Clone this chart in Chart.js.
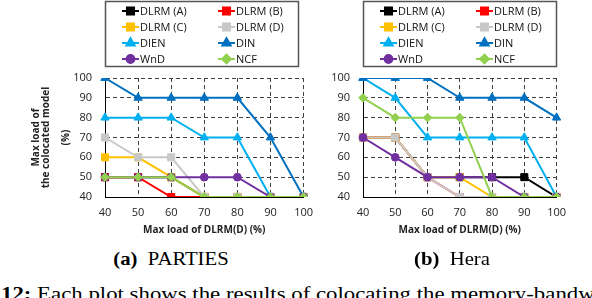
<!DOCTYPE html>
<html>
<head>
<meta charset="utf-8">
<script src="https://cdn.jsdelivr.net/npm/chart.js@4.4.0/dist/chart.umd.min.js"></script>
<style>
  body { margin: 0; width: 592px; height: 298px; overflow: hidden; background: #fff; position: relative; font-family: "Liberation Serif", "Times New Roman", serif; }
  #boxA { position: absolute; left: 0; top: 0; width: 322px; height: 240px; }
  #boxB { position: absolute; left: 270px; top: 0; width: 305px; height: 240px; }
  .sub { position: absolute; top: 249px; font-size: 18px; line-height: 20px; white-space: nowrap; transform: translateX(-50%) scaleX(1.15); }
  .cap { position: absolute; left: 1px; top: 284px; font-size: 19.5px; line-height: 20px; white-space: nowrap; transform-origin: left top; transform: scaleX(1.17); }
</style>
</head>
<body>
<div id="boxA"><canvas id="chartA"></canvas></div>
<div id="boxB"><canvas id="chartB"></canvas></div>
<div class="sub" style="left:171px"><b>(a)</b>&nbsp; PARTIES</div>
<div class="sub" style="left:452px"><b>(b)</b>&nbsp; Hera</div>
<div class="cap"><b>12:</b> Each plot shows the results of colocating the memory-bandwidth</div>
<script>
// x axis: max load of DLRM(D)
var loads = ['40', '50', '60', '70', '80', '90', '100'];
var seriesNames = ['DLRM (A)', 'DLRM (B)', 'DLRM (C)', 'DLRM (D)', 'DIEN', 'DIN', 'WnD', 'NCF'];
var seriesColors = ['#000000', '#FF0000', '#FFC000', '#C8C8C8', '#00B0F0', '#0070C0', '#7030A0', '#92D050'];
var seriesMarkers = ['rect', 'rect', 'rect', 'rect', 'triangle', 'triangle', 'circle', 'rectRot'];

// (a) PARTIES
var partiesA    = [50, 50, 50, 40, 40, 40, 40];
var partiesB    = [50, 50, 40, 40, 40, 40, 40];
var partiesC    = [60, 60, 50, 40, 40, 40, 40];
var partiesD    = [70, 60, 60, 40, 40, 40, 40];
var partiesDIEN = [80, 80, 80, 70, 70, 40, 40];
var partiesDIN  = [100, 90, 90, 90, 90, 70, 40];
var partiesWnD  = [50, 50, 50, 50, 50, 40, 40];
var partiesNCF  = [50, 50, 50, 40, 40, 40, 40];

// (b) Hera
var heraA    = [70, 70, 50, 50, 50, 50, 40];
var heraB    = [70, 70, 50, 40, 40, 40, 40];
var heraC    = [70, 70, 50, 50, 40, 40, 40];
var heraD    = [70, 70, 50, 40, 40, 40, 40];
var heraDIEN = [100, 90, 70, 70, 70, 70, 40];
var heraDIN  = [100, 100, 100, 90, 90, 90, 80];
var heraWnD  = [70, 60, 50, 50, 50, 40, 40];
var heraNCF  = [90, 80, 80, 80, 40, 40, 40];

var markerSize = { rect: 5, triangle: 4.8, circle: 3.9, rectRot: 4.3 };

function makeDatasets(values) {
    var sets = [];
    for (var i = 0; i < values.length; i++) {
        var st = seriesMarkers[i];
        sets.push({
            label: seriesNames[i],
            data: values[i],
            borderColor: seriesColors[i],
            backgroundColor: seriesColors[i],
            pointBackgroundColor: seriesColors[i],
            pointBorderColor: seriesColors[i],
            pointStyle: st,
            pointRadius: markerSize[st],
            pointBorderWidth: 1,
            borderWidth: 2,
            tension: 0,
            order: values.length - i   // later series on top, like the original
        });
    }
    return sets;
}

// legend box drawn inside the top padding, two columns
var boxLegend = {
    id: 'boxLegend',
    afterDraw: function(chart) {
        var ctx = chart.ctx, area = chart.chartArea;
        var left = area.left, top = 1.5, w = 193, h = 65;
        ctx.save();
        ctx.strokeStyle = '#555';
        ctx.lineWidth = 1.5;
        ctx.strokeRect(left + 0.5, top, w, h);
        ctx.font = '11px "Open Sans"';
        ctx.textBaseline = 'middle';
        ctx.textAlign = 'left';
        chart.data.datasets.forEach(function(ds, i) {
            var col = i % 2, row = Math.floor(i / 2);
            var x = left + 17 + col * 96, y = 11 + row * 16;
            ctx.strokeStyle = ds.borderColor;
            ctx.lineWidth = 2;
            ctx.beginPath();
            ctx.moveTo(x, y);
            ctx.lineTo(x + 17, y);
            ctx.stroke();
            Chart.helpers.drawPoint(ctx, {
                pointStyle: ds.pointStyle,
                radius: ds.pointRadius,
                borderWidth: 1,
                rotation: 0
            }, x + 8.5, y);
            ctx.fillStyle = ds.pointBackgroundColor;
            ctx.strokeStyle = ds.pointBorderColor;
            ctx.lineWidth = 1;
            ctx.fill();
            ctx.stroke();
            ctx.fillStyle = '#111';
            ctx.fillText(ds.label, x + 18, y + 0.5);
        });
        ctx.restore();
    }
};

function makeChart(id, values, yWidth, padRight, withTitle) {
    var canvas = document.getElementById(id);
    return new Chart(canvas.getContext('2d'), {
        type: 'line',
        data: { labels: loads, datasets: makeDatasets(values) },
        plugins: [boxLegend],
        options: {
            responsive: true,
            maintainAspectRatio: false,
            animation: false,
            layout: { padding: { top: 78, right: padRight, bottom: 0, left: 0 } },
            plugins: { legend: { display: false }, tooltip: { enabled: false } },
            scales: {
                x: {
                    grid: { color: '#404040', lineWidth: 1, drawTicks: false },
                    border: { display: true, color: '#000', width: 1, dash: [4, 3] },
                    ticks: { color: '#222', font: { family: 'Open Sans', size: 11 }, padding: 9, maxRotation: 0, autoSkip: false },
                    title: {
                        display: true, text: 'Max load of DLRM(D) (%)', color: '#222',
                        font: { family: 'Open Sans', size: 10, weight: 'bold' },
                        padding: { top: 0, bottom: 4 }
                    },
                    afterFit: function(s) { s.height = 43; }
                },
                y: {
                    min: 40, max: 100,
                    grid: { color: '#404040', lineWidth: 1, drawTicks: false },
                    border: { display: true, color: '#000', width: 1, dash: [4, 3] },
                    ticks: { stepSize: 10, color: '#222', font: { family: 'Open Sans', size: 11 }, padding: 13 },
                    title: {
                        display: withTitle,
                        text: ['Max load of', 'the colocated model', '', '(%)'],
                        color: '#222',
                        font: { family: 'Open Sans', size: 10, weight: 'bold', lineHeight: 1.0 },
                        padding: { top: 31, bottom: 0 }
                    },
                    afterFit: function(s) { s.width = yWidth; }
                }
            }
        }
    });
}

makeChart('chartA', [partiesA, partiesB, partiesC, partiesD, partiesDIEN, partiesDIN, partiesWnD, partiesNCF], 105, 17, true);
makeChart('chartB', [heraA, heraB, heraC, heraD, heraDIEN, heraDIN, heraWnD, heraNCF], 93, 16, false);
</script>
</body>
</html>
